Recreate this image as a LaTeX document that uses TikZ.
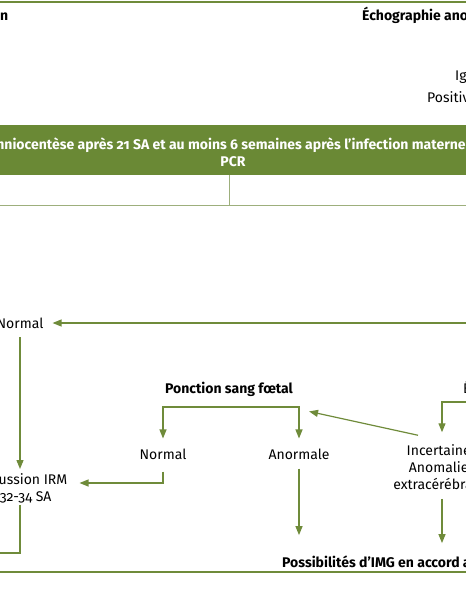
\documentclass[tikz,border=0pt]{standalone}
\usepackage{fontspec}
\setmainfont[Numbers=OldStyle]{Fira Sans}
\usetikzlibrary{arrows.meta}
\definecolor{leaf}{HTML}{6F8B3A}
\definecolor{bandgreen}{HTML}{6A8935}
\definecolor{rulegreen}{HTML}{9DAF7C}
\tikzset{
  txt/.style={font=\fontsize{14}{17}\selectfont, inner sep=0pt, align=center},
  bold/.style={txt, font=\fontsize{14}{17}\selectfont\bfseries},
  flow/.style={leaf, line width=1.2pt},
  arr/.style={flow, -{Triangle[length=9pt,width=7pt]}}
}
\begin{document}
\begin{tikzpicture}[x=1pt,y=-1pt]
\useasboundingbox (0,0) rectangle (466,600);
% frame lines
\draw[leaf, line width=1.6pt] (-5,2) -- (471,2);
\draw[leaf, line width=1.6pt] (-5,572) -- (471,572);
% top row
\node[bold, anchor=base east] (sero) at (8.5,20) {Séroconversion};
\node[bold, anchor=base west] (echoA) at (362,20) {Échographie anormale};
\node[txt, anchor=base west] (igg) at (455,80) {IgG};
\node[txt, anchor=base west] (posit) at (427,102) {Positive};
% band and table
\fill[bandgreen] (-5,125) rectangle (471,175);
\node[bold, text=white] (amnio) at (233,152) {Amniocentèse après 21 SA et au moins 6 semaines après l’infection maternelle\\PCR};
\draw[rulegreen, line width=1pt] (229,175) -- (229,205);
\draw[rulegreen, line width=1pt] (-5,205) -- (471,205);
% nodes
\node[txt, anchor=base] (normA) at (20,328) {Normal};
\node[txt] (discA) at (20,488) {Discussion IRM\\à 32-34 SA};
\node[bold] (ponct) at (229,389) {Ponction sang fœtal};
\node[txt] (normB) at (163,454) {Normal};
\node[txt] (anorm) at (299,454) {Anormale};
\node[txt] (incert) at (442,467) {Incertaines\\Anomalies\\extracérébrales};
\node[txt, anchor=base west] (echoB) at (463,393) {Échographie};
\node[bold, anchor=base west] (possib) at (282,567) {Possibilités d’IMG en accord avec};
% free ends
\coordinate (fromR) at (471,323);
\coordinate (echoR) at (471,402);
\coordinate (outL) at (-5,553);
% connectors
\draw[arr] (fromR) -- ([xshift=9pt]normA.east |- fromR);
\draw[arr] ([yshift=-9pt]normA.south) -- ([yshift=4pt]discA.north);
\draw[flow] ([yshift=-2pt]discA.south) |- (outL);
\draw[arr] ([yshift=-12pt]normB.south) |- ([xshift=12pt,yshift=5pt]discA.east);
\draw[arr] ([yshift=-10.5pt]ponct.south) -| ([yshift=10pt]normB.north);
\draw[arr] ([yshift=-10.5pt]ponct.south) -| ([yshift=10pt]anorm.north);
\draw[arr] ([xshift=-24pt,yshift=9pt]incert.north) -- ([xshift=16pt,yshift=-15pt]ponct.south east);
\draw[arr] (echoR) -| ([yshift=12pt]incert.north);
\draw[arr] ([yshift=-9pt]anorm.south) -- ([yshift=20pt]anorm.south |- possib.north);
\draw[arr] ([yshift=-9pt]incert.south) -- ([yshift=12pt]incert.south |- possib.north);
\end{tikzpicture}
\end{document}
